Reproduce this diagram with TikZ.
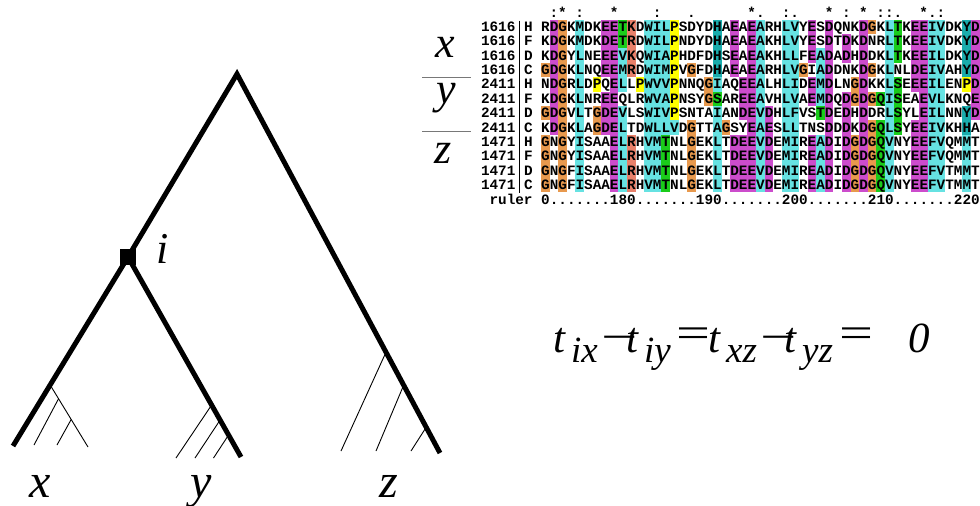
\documentclass[tikz,border=0pt]{standalone}
\usepackage{fontspec}
\setmainfont{Liberation Serif}
\newfontfamily\seqfont{Liberation Mono}
\usetikzlibrary{calc}
\definecolor{cb}{RGB}{102,226,226}
\definecolor{cc}{RGB}{26,172,172}
\definecolor{cm}{RGB}{204,76,204}
\definecolor{co}{RGB}{232,153,77}
\definecolor{cg}{RGB}{26,204,26}
\definecolor{cy}{RGB}{255,255,0}
\definecolor{cr}{RGB}{232,128,106}
\definecolor{fracgray}{RGB}{120,120,120}
\tikzset{
  branch/.style={line width=5pt, line join=miter, line cap=butt},
  twig/.style={line width=0.9pt},
  seqtxt/.style={inner sep=0pt, anchor=base west, font=\seqfont\bfseries\fontsize{14.33}{14.4}\selectfont},
  constxt/.style={inner sep=0pt, anchor=base, font=\seqfont\bfseries\fontsize{14.33}{14.4}\selectfont},
  leaflab/.style={inner sep=0pt, anchor=base, font=\itshape\fontsize{48}{48}\selectfont},
  fraclab/.style={inner sep=0pt, anchor=base, font=\itshape\fontsize{44}{44}\selectfont},
  eqtxt/.style={inner sep=0pt, anchor=base west, font=\itshape\fontsize{43}{43}\selectfont},
  eqop/.style={inner sep=0pt, anchor=base west, font=\fontsize{43}{43}\selectfont},
  eqsub/.style={inner sep=0pt, anchor=base west, font=\itshape\fontsize{37}{37}\selectfont},
  fracline/.style={line width=1.5pt, draw=fracgray},
  inode/.style={fill=black, minimum size=16.5pt, inner sep=0pt},
}
\def\nonecode{n}
\begin{document}
\begin{tikzpicture}[x=1pt,y=-1pt]
\useasboundingbox (0,0) rectangle (980,506);
\fill[white] (0,0) rectangle (980,506);

% ---------------- alignment colour boxes ----------------
\foreach \rr/\lst in {
0/{n,m,o,n,b,n,n,m,m,g,r,n,b,b,b,y,n,n,n,n,c,n,m,n,m,b,n,n,b,b,n,m,n,m,n,n,n,m,o,n,b,g,n,m,m,b,b,n,n,c,m},
1/{n,m,o,n,b,n,n,m,m,g,r,n,b,b,b,y,n,n,n,n,c,n,m,n,m,b,n,n,b,b,n,m,n,m,n,m,n,m,n,n,b,g,n,m,m,b,b,n,n,c,m},
2/{n,m,o,n,b,n,n,m,m,b,r,n,b,b,b,y,n,n,n,n,c,n,m,n,m,b,n,n,b,b,n,m,b,m,n,m,n,m,n,n,b,g,n,m,m,b,b,n,n,c,m},
3/{o,m,o,n,b,n,n,m,m,b,r,n,b,b,b,y,n,o,n,n,c,n,m,n,m,b,n,n,b,b,o,n,b,m,n,n,n,m,o,n,b,n,n,m,m,b,b,n,n,c,m},
4/{n,m,o,n,b,n,y,n,m,b,n,y,b,b,b,y,n,n,n,o,b,n,n,m,m,b,n,n,b,b,n,m,b,m,n,n,o,m,n,n,b,g,n,m,m,b,b,n,n,y,m},
5/{n,m,o,n,b,n,n,m,m,n,n,n,b,b,b,y,n,n,n,o,g,n,n,m,m,b,n,n,b,b,n,m,b,m,n,m,o,m,o,g,b,g,n,n,m,b,b,n,n,n,m},
6/{o,m,o,n,b,n,o,m,m,b,n,n,b,b,b,y,n,n,n,n,b,n,n,m,m,b,m,n,b,b,n,n,g,m,n,m,n,m,n,n,b,g,n,n,m,b,b,n,n,c,m},
7/{n,m,o,n,b,n,o,m,m,b,n,n,b,b,b,b,n,o,n,n,b,o,n,n,m,b,m,n,b,b,n,n,n,m,n,m,n,m,o,g,b,g,n,m,m,b,b,n,n,c,n},
8/{o,n,o,n,b,n,n,n,m,b,r,n,b,b,g,n,n,o,n,n,b,n,m,m,m,b,m,n,b,b,n,m,b,m,n,m,o,m,o,g,b,n,n,m,m,b,b,n,n,b,n},
9/{o,n,o,n,b,n,n,n,m,b,r,n,b,b,g,n,n,o,n,n,b,n,m,m,m,b,m,n,b,b,n,m,b,m,n,m,o,m,o,g,b,n,n,m,m,b,b,n,n,b,n},
10/{o,n,o,n,b,n,n,n,m,b,r,n,b,b,g,n,n,o,n,n,b,n,m,m,m,b,m,n,b,b,n,m,b,m,n,m,o,m,o,g,b,n,n,m,m,b,b,n,n,b,n},
11/{o,n,o,n,b,n,n,n,m,b,r,n,b,b,g,n,n,o,n,n,b,n,m,m,m,b,m,n,b,b,n,m,b,m,n,m,o,m,o,g,b,n,n,m,m,b,b,n,n,b,n}} {
  \foreach \cc [count=\kk from 0] in \lst {
    \ifx\cc\nonecode\else
      \edef\colname{c\cc}
      \fill[fill=\colname] ({541+8.6*\kk},{19.5+14.4*\rr}) rectangle ++(8.65,14.45);
    \fi
  }
}

% ---------------- alignment text ----------------
\foreach \kk/\sym in {1/:,2/*,4/:,8/*,13/:,17/.,24/*,25/.,28/:,29/.,33/*,35/:,37/*,39/:,40/:,41/.,44/*,45/.,46/:}
  \node[constxt] (cons\kk) at ({545.3+8.6*\kk},17) {\sym};

\foreach \lab/\ltr/\sq [count=\rr from 0] in {
1616/H/RDGKMDKEETKDWILPSDYDHAEAEARHLVYESDQNKDGKLTKEEIVDKYD,
1616/F/KDGKMDKDETRDWILPNDYDHAEAEAKHLVYESDTDKDNRLTKEEIVDKYD,
1616/D/KDGYLNEEEVKQWIAPHDFDHSEAEAKHLLFEADADHDDKLTKEEILDKYD,
1616/C/GDGKLNQEEMRDWIMPVGFDHAEAEARHLVGIADDNKDGKLNLDEIVAHYD,
2411/H/NDGRLDPQELLPWVVPNNQGIAQEEALHLIDEMDLNGDKKLSEEEILENPD,
2411/F/KDGKLNREEQLRWVAPNSYGSAREEAVHLVAEMDQDGDGQISEAEVLKNQE,
2411/D/GDGVLTGDEVLSWIVPSNTAIANDEVDHLFVSTDEDHDDRLSYLEILNNYD,
2411/C/KDGKLAGDELTDWLLVDGTTAGSYEAESLLTNSDDDKDGQLSYEEIVKHHA,
1471/H/GNGYISAAELRHVMTNLGEKLTDEEVDEMIREADIDGDGQVNYEEFVQMMT,
1471/F/GNGYISAAELRHVMTNLGEKLTDEEVDEMIREADIDGDGQVNYEEFVQMMT,
1471/D/GNGFISAAELRHVMTNLGEKLTDEEVDEMIREADIDGDGQVNYEEFVTMMT,
1471/C/GNGFISAAELRHVMTNLGEKLTDEEVDEMIREADIDGDGQVNYEEFVTMMT} {
  \node[seqtxt] (lab\rr) at (480.8,{31.3+14.4*\rr}) {\lab};
  \node[seqtxt] (ltr\rr) at (523.8,{31.3+14.4*\rr}) {\ltr};
  \node[seqtxt] (seq\rr) at (541,{31.3+14.4*\rr}) {\sq};
}
\node[seqtxt] (rulerlab) at (489.4,204) {ruler};
\node[seqtxt] (rulerseq) at (541,204) {0.......180.......190.......200.......210.......220};
\coordinate (bartop) at (519.5,20.5);
\coordinate (barbot) at (519.5,192.5);
\draw[line width=1.1pt] (bartop) -- (barbot);

% ---------------- group labels beside alignment ----------------
\node[fraclab] (fx) at (445,57) {x};
\coordinate (fl1a) at (422,77.3);
\coordinate (fl1b) at (471,77.3);
\draw[fracline] (fl1a) -- (fl1b);
\node[fraclab] (fy) at (446,103) {y};
\coordinate (fl2a) at (422,131.7);
\coordinate (fl2b) at (471,131.7);
\draw[fracline] (fl2a) -- (fl2b);
\node[fraclab] (fz) at (443,163) {z};

% ---------------- tree ----------------
\coordinate (root) at (237,74);
\coordinate (i) at (128,257);
\coordinate (xl) at (13,446);
\coordinate (yl) at (241,457);
\coordinate (zl) at (440,453);
\draw[branch] (xl) -- (i) -- (root) -- (zl);
\draw[branch] (i) -- (yl);
\node[inode] (inode) at (i) {};
\node[fraclab, anchor=base] (ilab) at (163,263) {i};

% x subtree
\coordinate (xa) at ($(i)!0.677!(xl)$);
\coordinate (xb) at (88,447);
\coordinate (xc) at ($(xa)!0.222!(xb)$);
\coordinate (xd) at (34,445);
\coordinate (xe) at ($(xa)!0.556!(xb)$);
\coordinate (xf) at (57,445);
\draw[twig] (xa) -- (xb);
\draw[twig] (xc) -- (xd);
\draw[twig] (xe) -- (xf);

% y subtree
\coordinate (ya) at ($(i)!0.74!(yl)$);
\coordinate (yb) at (176,458);
\coordinate (yc) at ($(i)!0.815!(yl)$);
\coordinate (yd) at (195,458);
\coordinate (ye) at ($(i)!0.89!(yl)$);
\coordinate (yf) at (213.5,458);
\draw[twig] (ya) -- (yb);
\draw[twig] (yc) -- (yd);
\draw[twig] (ye) -- (yf);

% z subtree
\coordinate (za) at ($(root)!0.734!(zl)$);
\coordinate (zb) at (341,451);
\coordinate (zc) at ($(root)!0.821!(zl)$);
\coordinate (zd) at (376,451);
\coordinate (ze) at ($(root)!0.932!(zl)$);
\coordinate (zf) at (411,451);
\draw[twig] (za) -- (zb);
\draw[twig] (zc) -- (zd);
\draw[twig] (ze) -- (zf);

\node[leaflab] (xlab) at (40,497) {x};
\node[leaflab] (ylab) at (201,497) {y};
\node[leaflab] (zlab) at (389,497) {z};

% ---------------- equation ----------------
\node[eqtxt] (e1) at (553,352) {t};
\node[eqsub] (e1s) at (571,362) {ix};
\node[eqop] (e2) at (601,351) {\scalebox{1.5}[1]{−}};
\node[eqtxt] (e3) at (626,352) {t};
\node[eqsub] (e3s) at (644,362) {iy};
\node[eqop] (e4) at (676,347) {\scalebox{1.4}[1]{=}};
\node[eqtxt] (e5) at (708,352) {t};
\node[eqsub] (e5s) at (726,362) {xz};
\node[eqop] (e6) at (760,351) {\scalebox{1.5}[1]{−}};
\node[eqtxt] (e7) at (784,352) {t};
\node[eqsub] (e7s) at (802,362) {yz};
\node[eqop] (e8) at (839,347) {\scalebox{1.4}[1]{=}};
\node[eqtxt] (e9) at (908,352) {0};
\end{tikzpicture}
\end{document}
